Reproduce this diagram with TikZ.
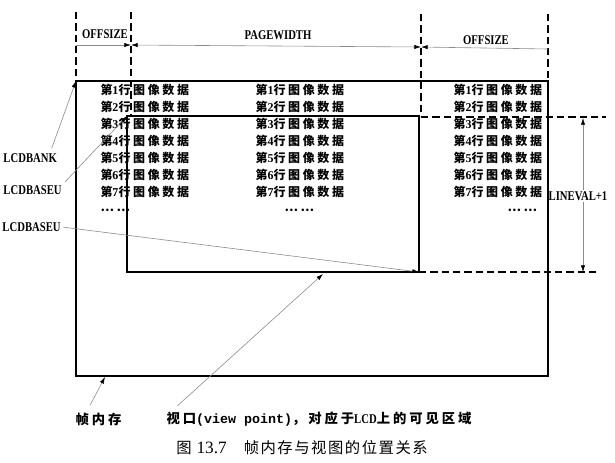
\documentclass[tikz,border=0pt]{standalone}
\usepackage{fontspec}
\usetikzlibrary{arrows.meta}
\newfontfamily\cjkfont{Noto Sans CJK SC}[LetterSpace=22]
\newfontfamily\capfont{Noto Sans CJK SC}[LetterSpace=10]
\newfontfamily\labfont{Liberation Serif}[FakeStretch=0.8]
\newfontfamily\numfont{Liberation Serif}
\newfontfamily\monofont{Liberation Mono}

\tikzset{every picture/.style={line width=0.75pt}}
\tikzset{
  rowtxt/.style={anchor=west, inner sep=0pt, font=\cjkfont\bfseries\fontsize{9}{10}\selectfont},
  lbl/.style={inner sep=0.75pt, font=\labfont\bfseries\fontsize{10}{11}\selectfont},
  guide/.style={dash pattern=on 5.5pt off 3pt, line width=1.5pt},
  dim/.style={draw=black!45, line width=0.45pt},
  tip/.tip={Latex[length=5pt,width=3.2pt,color=black]},
  ptr/.style={dim, -tip},
}

\begin{document}
\begin{tikzpicture}[x=0.75pt,y=0.75pt,yscale=-1,xscale=1]
\useasboundingbox (0,0) rectangle (615,462);

% corners
\coordinate (fbTL) at (76,81);
\coordinate (fbBR) at (548,376);
\coordinate (vpTL) at (127,116);
\coordinate (vpBR) at (419,272);

%Shape: Rectangle [frame buffer]
\draw [line width=1.1pt] (fbTL) rectangle (fbBR);
%Shape: Rectangle [view port]
\draw [line width=1.9pt] (vpTL) rectangle (vpBR);

%Straight Lines [dashed guides]
\draw [guide] (76,12) -- (fbTL);
\draw [guide] (131,12) -- (131,116);
\draw [guide] (421,14) -- (421,116);
\draw [guide] (548,14) -- (548,81);
\draw [guide] (421,117) -- (606,117);
\draw [guide] (vpBR) -- (600,272);

%Straight Lines [widths]
\coordinate (os1) at (76,45);
\coordinate (os2) at (131,45);
\coordinate (os3) at (421,47);
\coordinate (os4) at (548,49);
\draw [dim, -tip] (os1) -- (os2);
\draw [dim, tip-tip] (os2) -- (os3);
\draw [dim, tip-] (os3) -- (os4);

% Text Node
\node [lbl] (offsizeL) at (105,34) {OFFSIZE};
% Text Node
\node [lbl] (pagewidth) at (278,35) {PAGEWIDTH};
% Text Node
\node [lbl] (offsizeR) at (486,40) {OFFSIZE};

%Straight Lines [LINEVAL+1]
\coordinate (lvtop) at (583,118);
\coordinate (lvbot) at (583,272);
\node [lbl] (lineval) at (578,196) {LINEVAL+1};
\draw [dim, -tip] (lineval.north -| lvtop) -- (lvtop);
\draw [dim, -tip] (lineval.south -| lvbot) -- (lvbot);

% Text Node [left column]
\node [rowtxt] (l1) at (100,90) {第{\numfont\bfseries 1}行图像数据};
\node [rowtxt] (l2) at (100,107) {第{\numfont\bfseries 2}行图像数据};
\node [rowtxt] (l3) at (100,124) {第{\numfont\bfseries 3}行图像数据};
\node [rowtxt] (l4) at (100,141) {第{\numfont\bfseries 4}行图像数据};
\node [rowtxt] (l5) at (100,158) {第{\numfont\bfseries 5}行图像数据};
\node [rowtxt] (l6) at (100,175) {第{\numfont\bfseries 6}行图像数据};
\node [rowtxt] (l7) at (100,192) {第{\numfont\bfseries 7}行图像数据};
\node [rowtxt] (l8) at (100,210) {……};
% Text Node [middle column]
\node [rowtxt] (m1) at (255,90) {第{\numfont\bfseries 1}行图像数据};
\node [rowtxt] (m2) at (255,107) {第{\numfont\bfseries 2}行图像数据};
\node [rowtxt] (m3) at (255,124) {第{\numfont\bfseries 3}行图像数据};
\node [rowtxt] (m4) at (255,141) {第{\numfont\bfseries 4}行图像数据};
\node [rowtxt] (m5) at (255,158) {第{\numfont\bfseries 5}行图像数据};
\node [rowtxt] (m6) at (255,175) {第{\numfont\bfseries 6}行图像数据};
\node [rowtxt] (m7) at (255,192) {第{\numfont\bfseries 7}行图像数据};
\node [rowtxt] (m8) at (284,210) {……};
% Text Node [right column]
\node [rowtxt] (r1) at (453,90) {第{\numfont\bfseries 1}行图像数据};
\node [rowtxt] (r2) at (453,107) {第{\numfont\bfseries 2}行图像数据};
\node [rowtxt] (r3) at (453,124) {第{\numfont\bfseries 3}行图像数据};
\node [rowtxt] (r4) at (453,141) {第{\numfont\bfseries 4}行图像数据};
\node [rowtxt] (r5) at (453,158) {第{\numfont\bfseries 5}行图像数据};
\node [rowtxt] (r6) at (453,175) {第{\numfont\bfseries 6}行图像数据};
\node [rowtxt] (r7) at (453,192) {第{\numfont\bfseries 7}行图像数据};
\node [rowtxt] (r8) at (507,210) {……};

% Text Node [pointers on the left]
\node [lbl, anchor=west] (lcdbank) at (2,158) {LCDBANK};
\node [lbl, anchor=west] (lcdbaseuA) at (2,190) {LCDBASEU};
\node [lbl, anchor=west] (lcdbaseuB) at (1,227) {LCDBASEU};
\draw [ptr, shorten <=3pt] ([xshift=-6pt]lcdbank.north east) -- (fbTL);
\draw [ptr, shorten <=2pt] (lcdbaseuA.north east) -- (vpTL);
\draw [ptr, shorten <=1pt] (lcdbaseuB.east) -- (vpBR);

% Text Node [bottom labels]
\coordinate (fbptr) at (105,377);
\coordinate (vpptr) at (323,274);
\node [rowtxt, font=\cjkfont\bfseries\fontsize{10}{11}\selectfont] (framemem) at (75,419) {帧内存};
\node [rowtxt, font=\cjkfont\bfseries\fontsize{10}{11}\selectfont] (viewpt) at (166,419) {视口{\monofont\bfseries (view point)}，对应于{\labfont\bfseries LCD}上的可见区域};
\draw [ptr, shorten <=6pt] ([xshift=-9pt]framemem.north) -- (fbptr);
\draw [ptr, shorten <=6pt] ([xshift=4pt]viewpt.north west) -- (vpptr);

% Text Node [caption]
\node [inner sep=0pt, font=\capfont\fontsize{11.5}{13}\selectfont] (caption) at (302,448) {图 {\numfont\fontsize{13}{13}\selectfont 13.7}\hspace{1.1em}帧内存与视图的位置关系};

\end{tikzpicture}
\end{document}
